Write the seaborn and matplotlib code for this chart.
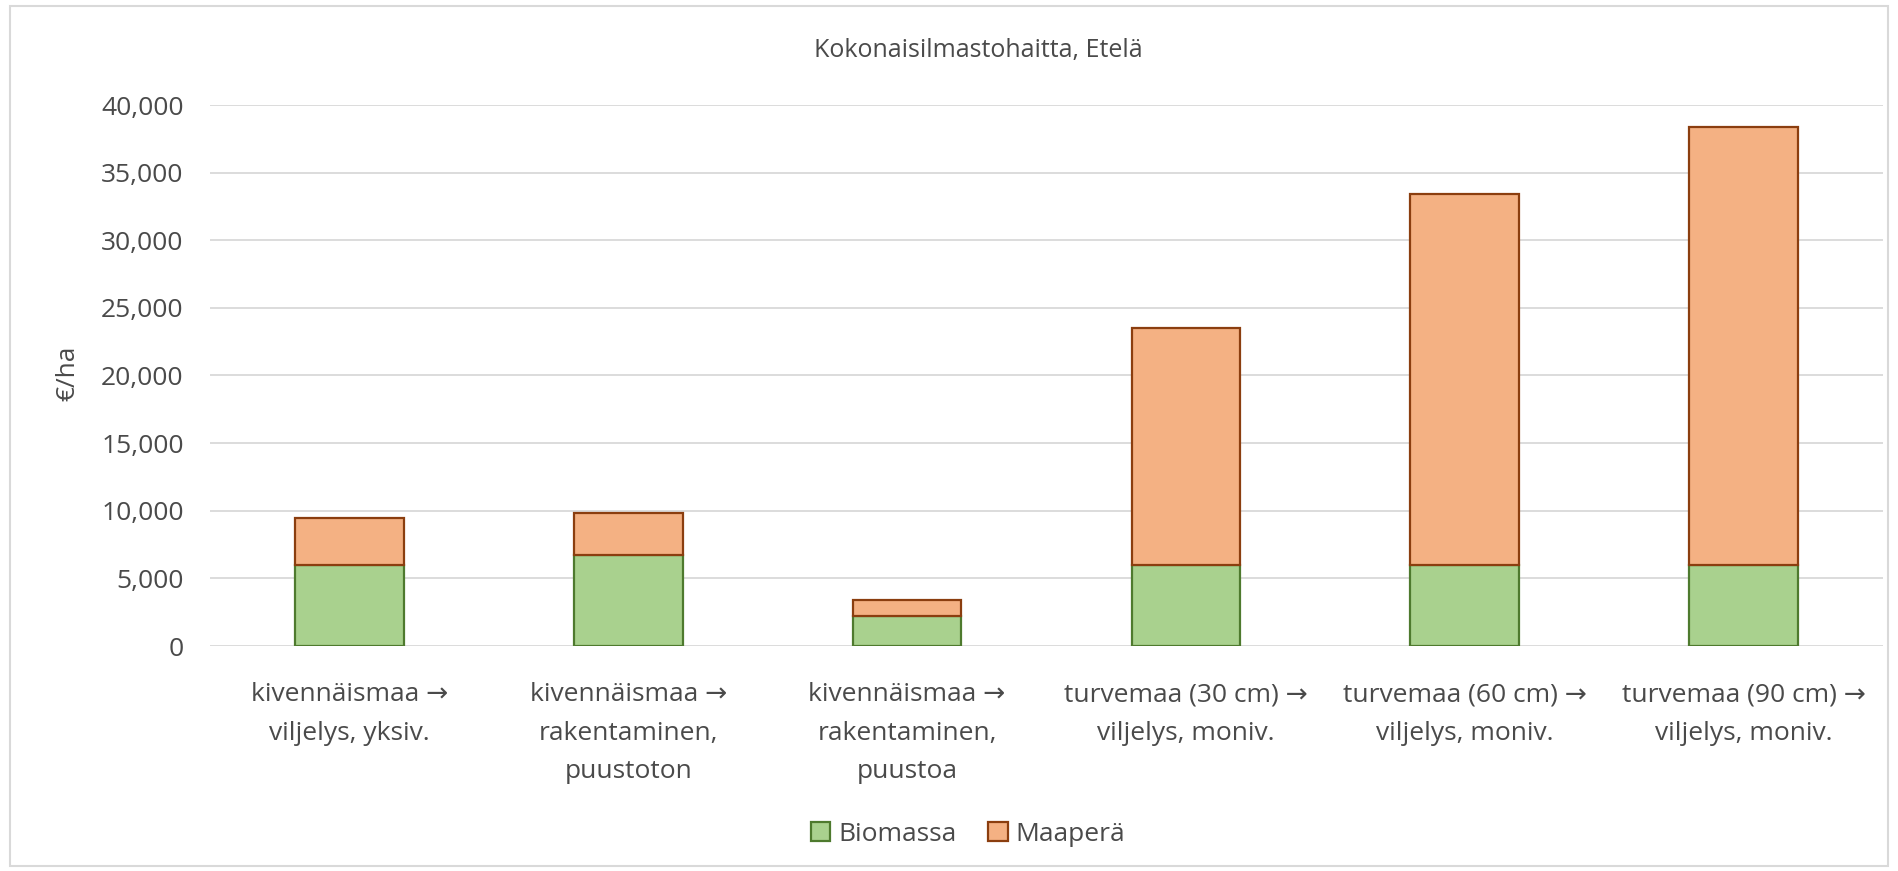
import pandas as pd
import matplotlib.pyplot as plt
import seaborn as sns
from matplotlib.patches import Rectangle, Patch
from matplotlib.ticker import FuncFormatter

# Arvot luettu kuvasta (€/ha)
kategoriat = [
    'kivennäismaa →\nviljelys, yksiv.',
    'kivennäismaa →\nrakentaminen,\npuustoton',
    'kivennäismaa →\nrakentaminen,\npuustoa',
    'turvemaa (30 cm) →\nviljelys, moniv.',
    'turvemaa (60 cm) →\nviljelys, moniv.',
    'turvemaa (90 cm) →\nviljelys, moniv.',
]
biomassa = [6000, 6700, 2200, 6000, 6000, 6000]
maapera = [3500, 3170, 1200, 17500, 27400, 32400]

df = pd.DataFrame({'kategoria': kategoriat, 'Biomassa': biomassa, 'Maaperä': maapera})

sns.set_style('white')
plt.rcParams['font.family'] = ['Open Sans', 'DejaVu Sans']

fig = plt.figure(figsize=(18.98, 8.71), dpi=100)
ax = fig.add_axes([210 / 1898, 1 - 646 / 871, 1673 / 1898, 541 / 871])

vihrea, vihrea_reuna = '#A9D18E', '#4E7A2E'
oranssi, oranssi_reuna = '#F4B183', '#8B3E0F'
teksti = '#4A4A4A'

sns.barplot(data=df, x='kategoria', y='Biomassa', color=vihrea, saturation=1,
            edgecolor=vihrea_reuna, linewidth=1.6, width=0.39, ax=ax, zorder=3)
sns.barplot(data=df, x='kategoria', y='Maaperä', color=oranssi, saturation=1,
            edgecolor=oranssi_reuna, linewidth=1.6, width=0.39, ax=ax, zorder=3,
            bottom=df['Biomassa'].values)

ax.set_ylim(0, 40000)
ax.set_yticks(range(0, 40001, 5000))
ax.yaxis.set_major_formatter(FuncFormatter(lambda v, p: f'{int(v):,}'))
ax.grid(axis='y', color='#D9D9D9', linewidth=1.3, zorder=0)
ax.set_axisbelow(True)
for s in ax.spines.values():
    s.set_visible(False)

ax.tick_params(axis='both', length=0, labelsize=19, colors=teksti)
ax.tick_params(axis='y', pad=19)
ax.tick_params(axis='x', pad=26)
for t in ax.get_xticklabels():
    t.set_linespacing(1.72)
ax.set_xlabel('')
ax.set_ylabel('€/ha', fontsize=19, color=teksti)
ax.yaxis.set_label_coords(-(210 - 80) / 1673, (646 - 373) / 541)

fig.text(978 / 1898, 1 - 50 / 871, 'Kokonaisilmastohaitta, Etelä',
         ha='center', va='center', fontsize=18, color=teksti)

kasittelyt = [Patch(facecolor=vihrea, edgecolor=vihrea_reuna, linewidth=1.6, label='Biomassa'),
              Patch(facecolor=oranssi, edgecolor=oranssi_reuna, linewidth=1.6, label='Maaperä')]
leg = fig.legend(handles=kasittelyt, loc='center', bbox_to_anchor=(968 / 1898, 1 - 834 / 871),
                 ncol=2, frameon=False, fontsize=19, handlelength=0.75, handleheight=0.75,
                 handletextpad=0.3, columnspacing=1.2)
for t in leg.get_texts():
    t.set_color(teksti)

fig.patches.append(Rectangle((10 / 1898, 1 - 866 / 871), 1878 / 1898, 860 / 871,
                             transform=fig.transFigure, fill=False,
                             edgecolor='#D9D9D9', linewidth=1.5))

fig.savefig('out.png', dpi=100)
